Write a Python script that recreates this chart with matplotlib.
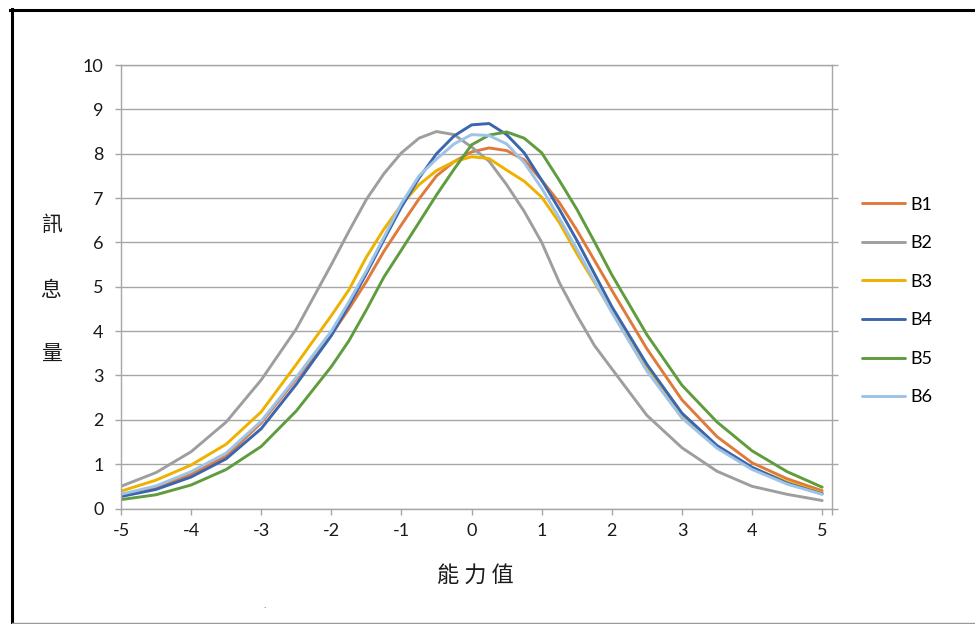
import matplotlib
matplotlib.use("Agg")
import matplotlib.pyplot as plt
from matplotlib.lines import Line2D

plt.rcParams["font.family"] = ["Lato", "Noto Sans CJK TC", "DejaVu Sans"]

###############################################################
# data
###############################################################
theta = [-5, -4.5, -4, -3.5, -3, -2.5, -2, -1.75, -1.5, -1.25, -1, -0.75,
         -0.5, -0.25, 0, 0.25, 0.5, 0.75, 1, 1.25, 1.5, 1.75, 2, 2.5, 3,
         3.5, 4, 4.5, 5]

b1 = [0.30, 0.48, 0.77, 1.18, 1.93, 2.92, 3.92, 4.50, 5.12, 5.80, 6.40, 6.98,
      7.50, 7.82, 8.04, 8.13, 8.07, 7.86, 7.40, 6.90, 6.28, 5.60, 4.92, 3.60,
      2.45, 1.62, 1.03, 0.67, 0.40]
b2 = [0.50, 0.81, 1.28, 1.95, 2.90, 4.05, 5.50, 6.25, 6.97, 7.55, 8.02, 8.35,
      8.50, 8.43, 8.15, 7.83, 7.30, 6.70, 6.00, 5.10, 4.36, 3.68, 3.15, 2.10,
      1.37, 0.84, 0.50, 0.32, 0.18]
b3 = [0.39, 0.64, 0.98, 1.45, 2.18, 3.25, 4.35, 4.93, 5.67, 6.30, 6.85, 7.30,
      7.62, 7.82, 7.93, 7.89, 7.63, 7.38, 7.02, 6.45, 5.75, 5.10, 4.45, 3.15,
      2.08, 1.40, 0.92, 0.60, 0.35]
b4 = [0.27, 0.43, 0.71, 1.12, 1.80, 2.80, 3.90, 4.58, 5.30, 6.06, 6.80, 7.45,
      8.00, 8.40, 8.65, 8.68, 8.43, 8.02, 7.40, 6.75, 6.05, 5.30, 4.55, 3.25,
      2.15, 1.42, 0.93, 0.57, 0.33]
b5 = [0.20, 0.31, 0.53, 0.88, 1.40, 2.20, 3.20, 3.78, 4.48, 5.22, 5.83, 6.45,
      7.07, 7.65, 8.20, 8.42, 8.49, 8.35, 8.02, 7.40, 6.75, 6.02, 5.27, 3.92,
      2.78, 1.95, 1.30, 0.83, 0.48]
b6 = [0.32, 0.51, 0.83, 1.25, 1.97, 2.96, 4.00, 4.66, 5.36, 6.12, 6.88, 7.50,
      7.88, 8.22, 8.43, 8.41, 8.22, 7.80, 7.22, 6.55, 5.85, 5.14, 4.42, 3.10,
      2.04, 1.36, 0.88, 0.55, 0.32]

series_names = ["B1", "B2", "B3", "B4", "B5", "B6"]
series_values = [b1, b2, b3, b4, b5, b6]
series_colors = ["#E07A3A", "#9E9E9E", "#EDB100", "#3B66AE", "#5E9C3E", "#9DC3E6"]

x_ticks = [-5, -4, -3, -2, -1, 0, 1, 2, 3, 4, 5]
y_ticks = list(range(0, 11))

###############################################################
# figure
###############################################################
W, H = 975, 624
fig = plt.figure(figsize=(W / 100, H / 100), dpi=100)
ax = fig.add_axes([121 / W, 1 - 508.5 / H, (832 - 121) / W, (508.5 - 65) / H])

for name, vals, col in zip(series_names, series_values, series_colors):
    ax.plot(theta, vals, color=col, lw=2.1, label=name, solid_capstyle="round")

grid_col = "#A6A6A6"
ax.set_xlim(-5, 5.14)
ax.set_ylim(0, 10)
ax.set_xticks(x_ticks)
ax.set_xticklabels([str(t) for t in x_ticks])
ax.set_xticks([5.14], minor=True)
ax.set_yticks(y_ticks)
ax.yaxis.grid(True, color=grid_col, lw=1.0)
ax.set_axisbelow(True)

for sp in ax.spines.values():
    sp.set_color(grid_col)
    sp.set_linewidth(1.0)

ax.tick_params(axis="both", which="both", direction="out", length=4.5,
               width=1.0, color=grid_col, labelsize=13, labelcolor="#1a1a1a")
ax.tick_params(axis="y", right=True, pad=8)
ax.tick_params(axis="x", pad=6)

# y label, characters stacked with wide gaps
for ch, ypx in zip(["訊", "息", "量"], [225, 290, 355]):
    fig.text(51 / W, 1 - ypx / H, ch, fontsize=15, ha="center", va="center",
             family=["Noto Sans CJK TC"], color="#1a1a1a")

fig.text(475 / W, 1 - 575 / H, "能 力 值", fontsize=16, ha="center",
         va="center", family=["Noto Sans CJK TC"], color="#1a1a1a")

fig.text(265 / W, 1 - 606 / H, ".", fontsize=7, ha="center", va="center",
         color="#444444")

# legend
fig.legend(loc="center left", bbox_to_anchor=(862 / W, 1 - 301 / H),
           frameon=False, fontsize=13, handlelength=2.4, handletextpad=0.3,
           labelspacing=1.25, borderpad=0, borderaxespad=0)

# outer frame
fig.add_artist(Line2D([11.5 / W, 11.5 / W], [0, 1 - 9 / H], color="black",
                      lw=2.2, transform=fig.transFigure))
fig.add_artist(Line2D([10 / W, 1], [1 - 9.5 / H, 1 - 9.5 / H], color="black",
                      lw=2.2, transform=fig.transFigure))
fig.add_artist(Line2D([11.5 / W, 1], [1 - 622.5 / H, 1 - 622.5 / H],
                      color="#999999", lw=1.0, transform=fig.transFigure))

fig.savefig("out.png", dpi=100)
